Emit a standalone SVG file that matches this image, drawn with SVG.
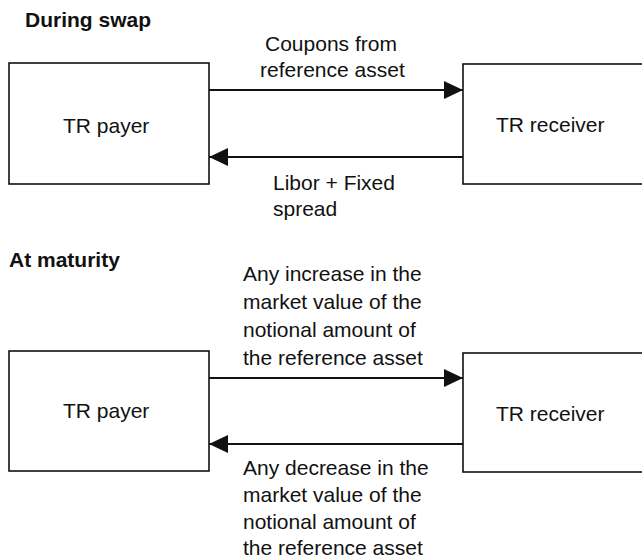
<svg xmlns="http://www.w3.org/2000/svg" width="642" height="560" viewBox="0 0 642 560">
<style>
text{font-family:"Liberation Sans",Arial,sans-serif;font-size:21px;fill:#111}
.title{font-weight:bold}
.box{fill:#fff;stroke:#111;stroke-width:1.6}
.conn{stroke:#111;stroke-width:2.2;fill:none}
</style>
<defs>
<marker id="ah" markerWidth="19" markerHeight="18" refX="19" refY="9" orient="auto" markerUnits="userSpaceOnUse">
<path d="M0,0 L19,9 L0,18 Z" fill="#111"/>
</marker>
</defs>
<rect width="642" height="560" fill="#fff"/>
<text class="title" x="25" y="27">During swap</text>
<text class="title" x="9" y="267">At maturity</text>
<g id="payer1"><rect class="box" x="9" y="63" width="200" height="121"/><text x="63" y="133">TR payer</text></g>
<g id="receiver1"><rect class="box" x="463" y="64" width="190" height="120"/><text x="496" y="132">TR receiver</text></g>
<g id="payer2"><rect class="box" x="9" y="351" width="200" height="120"/><text x="63" y="418">TR payer</text></g>
<g id="receiver2"><rect class="box" x="463" y="353" width="190" height="119"/><text x="496" y="421">TR receiver</text></g>
<g id="connectors">
<line class="conn" x1="209" y1="90" x2="463" y2="90" marker-end="url(#ah)"/>
<line class="conn" x1="463" y1="157" x2="209" y2="157" marker-end="url(#ah)"/>
<line class="conn" x1="209" y1="378" x2="463" y2="378" marker-end="url(#ah)"/>
<line class="conn" x1="463" y1="444" x2="209" y2="444" marker-end="url(#ah)"/>
</g>
<g id="labels">
<text x="265" y="51">Coupons from</text>
<text x="260" y="77">reference asset</text>
<text x="273" y="190">Libor + Fixed</text>
<text x="273" y="216">spread</text>
<text x="243" y="281">Any increase in the</text>
<text x="243" y="309">market value of the</text>
<text x="243" y="337">notional amount of</text>
<text x="243" y="365">the reference asset</text>
<text x="243" y="475">Any decrease in the</text>
<text x="243" y="502">market value of the</text>
<text x="243" y="529">notional amount of</text>
<text x="243" y="555">the reference asset</text>
</g>
</svg>
